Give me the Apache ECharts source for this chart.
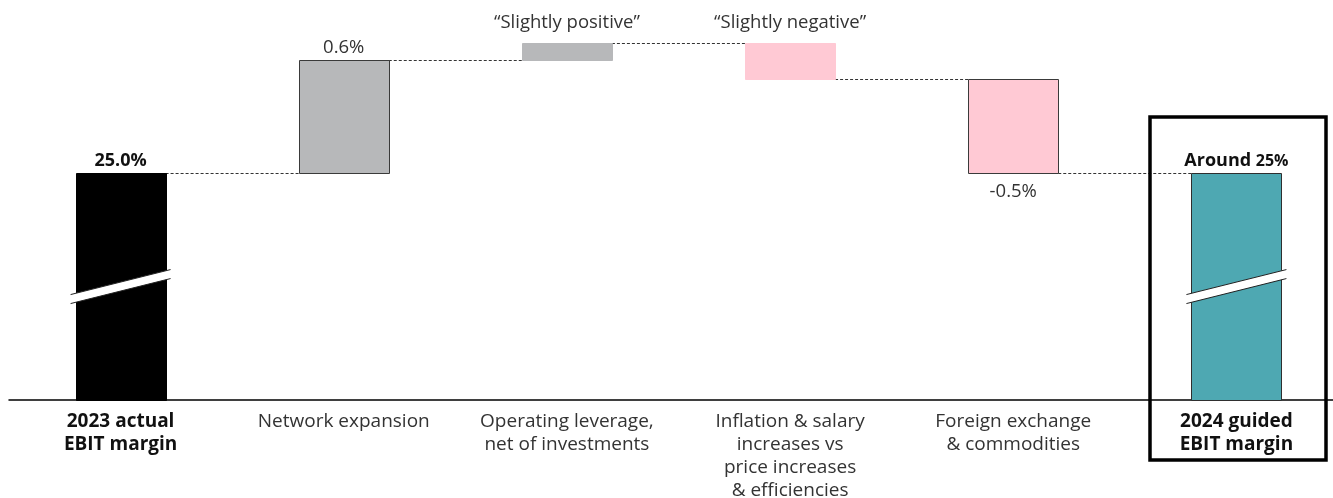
<!DOCTYPE html>
<html>
<head>
<meta charset="utf-8">
<script src="https://cdn.jsdelivr.net/npm/echarts@6/dist/echarts.min.js"></script>
<style>
  html, body { margin: 0; padding: 0; background: #fff; }
  #chart { width: 1333px; height: 498px; }
</style>
</head>
<body>
<div id="chart"></div>
<script>
// categories and steps of the EBIT margin bridge (in %)
var categories = [
  '2023 actual\nEBIT margin',
  'Network expansion',
  'Operating leverage,\nnet of investments',
  'Inflation & salary\nincreases vs\nprice increases\n& efficiencies',
  'Foreign exchange\n& commodities',
  '2024 guided\nEBIT margin'
];
var steps = [25.0, 0.6, 0.09, -0.19, -0.5, 25.0];
var isTotal = [true, false, false, false, false, true];
var valueLabels = ['25.0%', '0.6%', '\u201cSlightly positive\u201d', '\u201cSlightly negative\u201d', '-0.5%', 'Around {s|25%}'];
var barColors = ['#000000', '#b7b8ba', '#b7b8ba', '#ffc9d4', '#ffc9d4', '#4ea8b2'];
var barBorders = ['#000000', '#3a3a3a', '#b7b8ba', '#ffc9d4', '#3a3a3a', '#2f2f2f'];
var breakLevel = 24.4;

var FONT = 'Open Sans';

// build low / high of each bar
var lows = [], highs = [];
var running = 0;
steps.forEach(function (s, i) {
  if (isTotal[i]) {
    lows.push(0); highs.push(s); running = s;
  } else {
    var next = running + s;
    lows.push(Math.min(running, next));
    highs.push(Math.max(running, next));
    running = next;
  }
});
// level where each bar ends (for connectors)
var ends = [];
running = 0;
steps.forEach(function (s, i) {
  running = isTotal[i] ? s : running + s;
  ends.push(+running.toFixed(3));
});

var chart = echarts.init(document.getElementById('chart'));
var BAR_W = 90;

var option = {
  animation: false,
  grid: { left: 9, width: 1339, top: 3, bottom: 98, outerBoundsMode: 'none' },
  xAxis: {
    type: 'category',
    data: categories,
    axisLine: { lineStyle: { color: '#000', width: 1.5 } },
    axisTick: { show: false },
    axisLabel: {
      interval: 0,
      margin: 10,
      lineHeight: 23,
      fontFamily: FONT,
      fontSize: 19,
      color: '#333',
      formatter: function (v, i) {
        return isTotal[i] ? v.split('\n').map(function (t) { return '{b|' + t + '}'; }).join('\n') : v;
      },
      rich: {
        b: { fontFamily: FONT, fontWeight: 'bold', fontSize: 19, color: '#111', lineHeight: 23 }
      }
    }
  },
  yAxis: {
    type: 'value',
    min: 23.8,
    max: 25.9,
    show: false,
    splitLine: { show: false }
  },
  series: [
    {
      // waterfall bars
      type: 'custom',
      z: 3,
      data: categories.map(function (c, i) { return [i, lows[i], highs[i]]; }),
      renderItem: function (params, api) {
        var i = api.value(0);
        var lo = api.coord([i, Math.max(api.value(1), 23.8)]);
        var hi = api.coord([i, api.value(2)]);
        var x = Math.round(lo[0] - BAR_W / 2) + 0.5;
        var children = [{
          type: 'rect',
          shape: { x: x, y: Math.round(hi[1]) + 0.5, width: BAR_W, height: Math.round(lo[1]) - Math.round(hi[1]) },
          style: { fill: barColors[i], stroke: barBorders[i], lineWidth: 1 }
        }];
        var ly = hi[1] - 12;
        if (isTotal[i]) ly = hi[1] - 12;
        if (i === 4) ly = lo[1] + 19;
        if (i === 2 || i === 3) ly = hi[1] - 20;
        children.push({
          type: 'text',
          style: {
            x: lo[0],
            y: ly,
            text: valueLabels[i],
            align: 'center',
            verticalAlign: 'middle',
            fontFamily: FONT,
            fontSize: isTotal[i] ? 18 : 18.5,
            fontWeight: isTotal[i] ? 'bold' : 'normal',
            fill: isTotal[i] ? '#111' : '#333',
            rich: { s: { fontFamily: FONT, fontSize: 16, fontWeight: 'bold', fill: '#111' } }
          }
        });
        if (isTotal[i]) {
          // axis-break slash
          var c = api.coord([i, breakLevel]);
          var half = BAR_W / 2 + 5, rise = 12.5, gap = 4.5;
          children.push({
            type: 'polygon',
            shape: { points: [
              [c[0] - half, c[1] + rise - gap], [c[0] + half, c[1] - rise - gap],
              [c[0] + half, c[1] - rise + gap], [c[0] - half, c[1] + rise + gap]
            ] },
            style: { fill: '#fff' }
          });
          children.push({
            type: 'line',
            shape: { x1: c[0] - half, y1: c[1] + rise - gap, x2: c[0] + half, y2: c[1] - rise - gap },
            style: { stroke: '#222', lineWidth: 1 }
          });
          children.push({
            type: 'line',
            shape: { x1: c[0] - half, y1: c[1] + rise + gap, x2: c[0] + half, y2: c[1] - rise + gap },
            style: { stroke: '#222', lineWidth: 1 }
          });
        }
        return { type: 'group', children: children };
      }
    },
    {
      // dashed connectors between bars
      type: 'custom',
      z: 2,
      data: ends.slice(0, -1).map(function (e, i) { return [i, e]; }),
      renderItem: function (params, api) {
        var i = api.value(0);
        var a = api.coord([i, api.value(1)]);
        var b = api.coord([i + 1, api.value(1)]);
        var y = Math.round(a[1]) + 0.5;
        return {
          type: 'line',
          shape: { x1: a[0] + BAR_W / 2, y1: y, x2: b[0] - BAR_W / 2, y2: y },
          style: { stroke: '#333', lineWidth: 1, lineDash: [3, 2] }
        };
      }
    }
  ],
  graphic: [
    {
      type: 'rect',
      z: 10,
      shape: { x: 1150, y: 117, width: 176, height: 343 },
      style: { fill: 'none', stroke: '#000', lineWidth: 3.5 }
    }
  ]
};

chart.setOption(option);
</script>
</body>
</html>
